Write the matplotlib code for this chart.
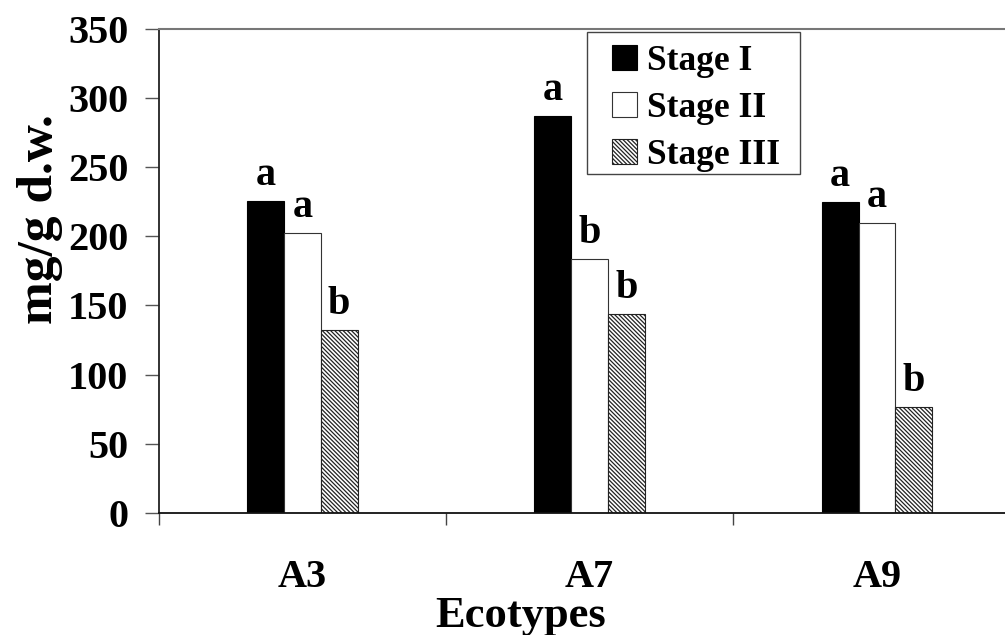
import matplotlib
matplotlib.use("Agg")
import matplotlib.pyplot as plt
from matplotlib.patches import Rectangle
import numpy as np

categories = ["A3", "A7", "A9"]
series_names = ["Stage I", "Stage II", "Stage III"]
stage1 = [225.7, 287.1, 225.0]
stage2 = [202.1, 183.3, 209.4]
stage3 = [132.3, 143.6, 76.6]
letters1 = ["a", "a", "a"]
letters2 = ["a", "b", "a"]
letters3 = ["b", "b", "b"]
yticks = [0, 50, 100, 150, 200, 250, 300, 350]

plt.rcParams['font.family'] = ['Liberation Serif', 'DejaVu Serif']
plt.rcParams['font.weight'] = 'bold'
plt.rcParams['hatch.linewidth'] = 0.9
plt.rcParams['hatch.color'] = 'black'

W, H = 1005, 635
fig = plt.figure(figsize=(W / 100, H / 100), dpi=100)
left_px, right_px, top_px, bot_px = 158.7, 1005, 28.7, 513
ax = fig.add_axes([left_px / W, 1 - bot_px / H, (right_px - left_px) / W, (bot_px - top_px) / H])

x = np.arange(len(categories))
bw = 0.128
vals = [stage1, stage2, stage3]
lets = [letters1, letters2, letters3]
styles = [
    dict(color='black', edgecolor='black', linewidth=0.8),
    dict(color='white', edgecolor='#333333', linewidth=0.8),
    dict(facecolor='white', edgecolor='#222222', hatch='\\\\\\\\\\\\\\\\', linewidth=0.8),
]
handles = []
for i in range(3):
    b = ax.bar(x + (i - 1) * bw, vals[i], bw, label=series_names[i], **styles[i])
    handles.append(b)
    for xi, v, t in zip(x + (i - 1) * bw, vals[i], lets[i]):
        ax.annotate(t, (xi, v), xytext=(0, 11.5), textcoords='offset points',
                    ha='center', va='baseline', fontsize=29, fontweight='bold')

ax.set_ylim(0, 350)
ax.set_xlim(-0.5, (right_px - left_px) / 287.3 - 0.5)
ax.set_yticks(yticks)
ax.set_yticklabels([str(t) for t in yticks], fontsize=29, fontweight='bold')
ax.tick_params(axis='y', direction='out', length=10, width=1.0, color='#555555', pad=12)

ax.set_xticks(x)
ax.set_xticklabels(categories, fontsize=29, fontweight='bold')
ax.tick_params(axis='x', which='major', length=0, pad=33)
ax.set_xticks([-0.5, 0.5, 1.5], minor=True)
ax.tick_params(axis='x', which='minor', direction='out', length=8.6, width=1.0, color='#444444')

ax.spines['right'].set_visible(False)
ax.spines['top'].set_color('#777777')
ax.spines['top'].set_linewidth(1.5)
ax.spines['left'].set_color('#222222')
ax.spines['left'].set_linewidth(1.3)
ax.spines['bottom'].set_color('#111111')
ax.spines['bottom'].set_linewidth(1.3)

# legend box drawn separately
bx0, by0, bx1, by1 = 586.7, 32.3, 800, 174.3
fig.patches.append(Rectangle((bx0 / W, 1 - by1 / H), (bx1 - bx0) / W, (by1 - by0) / H,
                             transform=fig.transFigure, facecolor='white',
                             edgecolor='#444444', linewidth=1.0, zorder=5))
leg = fig.legend(handles=handles, labels=series_names, loc='upper left',
                 bbox_to_anchor=(612 / W, 1 - 45 / H),
                 prop=dict(family='Liberation Serif', weight='bold', size=25.5),
                 frameon=False,
                 handlelength=0.7, handleheight=0.7, handletextpad=0.3,
                 labelspacing=0.39, borderpad=0, borderaxespad=0)
leg.set_zorder(6)

fig.text(521 / W, 1 - 627 / H, "Ecotypes", ha='center', va='baseline', fontsize=32, fontweight='bold')
fig.text(40 / W, 1 - 219 / H, "mg/g d.w.", ha='center', va='center', rotation=90, fontsize=37, fontweight='bold')

fig.savefig("out.png", dpi=100)
